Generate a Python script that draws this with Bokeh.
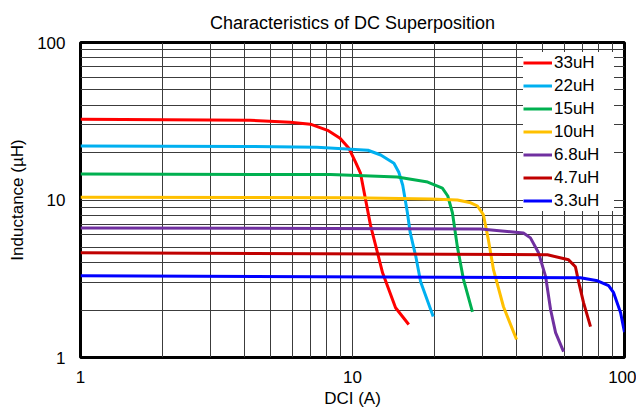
from bokeh.plotting import figure
from bokeh.models import Range1d, FixedTicker
from bokeh.embed import file_html
from bokeh.resources import INLINE

title = "Characteristics of DC Superposition"
x_title = "DCI (A)"
y_title = "Inductance (µH)"

x_ticks = [1, 10, 100]
x_tick_labels = ["1", "10", "100"]
y_ticks = [1, 10, 100]
y_tick_labels = ["1", "10", "100"]
minor_ticks = [2, 3, 4, 5, 6, 7, 8, 9, 20, 30, 40, 50, 60, 70, 80, 90]

names = ["33uH", "22uH", "15uH", "10uH", "6.8uH", "4.7uH", "3.3uH"]
colors = ["#FF0000", "#00B0F0", "#00B050", "#FFC000", "#7030A0", "#C00000", "#0000FF"]

x_33 = [1, 4.2, 5.9, 7.0, 8.1, 9.0, 9.7, 10.26, 10.7, 11.65, 12.9, 14.4, 16.1]
y_33 = [32.6, 32.1, 31.2, 30.3, 27.7, 24.7, 21.3, 17.4, 14.8, 6.9, 3.45, 2.07, 1.62]

x_22 = [1, 4, 7.4, 11.4, 12.7, 14.2, 14.8, 15.3, 15.9, 16.3, 17.1, 17.8, 19.8]
y_22 = [22.0, 21.9, 21.6, 20.7, 19.3, 17.1, 15.0, 12.4, 8.4, 6.2, 4.36, 3.03, 1.82]

x_15 = [1, 8.3, 14.6, 18.9, 21.4, 22.4, 23.3, 24.3, 25.6, 27.6]
y_15 = [14.6, 14.5, 14.0, 13.0, 11.9, 10.6, 8.3, 5.04, 3.12, 1.95]

x_10 = [1, 10, 19.4, 24.3, 27.2, 28.8, 30.3, 31.6, 33.0, 35.9, 40.1]
y_10 = [10.4, 10.35, 10.15, 10.0, 9.6, 9.16, 8.04, 5.58, 3.6, 2.1, 1.3]

x_6p8 = [1, 29.6, 42.5, 45.1, 48.3, 51.3, 53.5, 55.8, 59.7]
y_6p8 = [6.65, 6.55, 6.18, 5.75, 4.62, 3.26, 2.01, 1.44, 1.09]

x_4p7 = [1, 52.1, 62.3, 66.0, 67.8, 70.7, 75.0]
y_4p7 = [4.62, 4.49, 4.17, 3.77, 3.03, 2.23, 1.57]

x_3p3 = [1, 68.9, 79.6, 87.4, 91.2, 96.7, 100]
y_3p3 = [3.30, 3.21, 3.07, 2.86, 2.58, 1.93, 1.45]

series_x = [x_33, x_22, x_15, x_10, x_6p8, x_4p7, x_3p3]
series_y = [y_33, y_22, y_15, y_10, y_6p8, y_4p7, y_3p3]

FONT = "Liberation Sans"

p = figure(width=636, height=410, x_axis_type="log", y_axis_type="log",
           x_range=Range1d(1, 100), y_range=Range1d(1, 100),
           output_backend="svg", toolbar_location=None,
           min_border_left=80, min_border_right=12, min_border_top=42, min_border_bottom=52,
           title=title)

p.title.text_font = FONT
p.title.text_font_size = "18px"
p.title.text_font_style = "normal"
p.title.text_color = "black"
p.title.align = "center"
p.title.standoff = 20

for xs, ys, nm, c in zip(series_x, series_y, names, colors):
    p.line(xs, ys, line_color=c, line_width=3, legend_label=nm)

p.xaxis.ticker = FixedTicker(ticks=x_ticks, minor_ticks=minor_ticks)
p.yaxis.ticker = FixedTicker(ticks=y_ticks, minor_ticks=minor_ticks)
p.xaxis.major_label_overrides = dict(zip(x_ticks, x_tick_labels))
p.yaxis.major_label_overrides = dict(zip(y_ticks, y_tick_labels))

for ax in (p.xaxis, p.yaxis):
    ax.axis_line_color = None
    ax.major_tick_line_color = None
    ax.minor_tick_line_color = None
    ax.major_tick_out = 0
    ax.major_tick_in = 0
    ax.minor_tick_out = 0
    ax.minor_tick_in = 0
    ax.major_label_text_font = FONT
    ax.major_label_text_font_size = "17px"
    ax.major_label_text_color = "black"
    ax.axis_label_text_font = FONT
    ax.axis_label_text_font_size = "17px"
    ax.axis_label_text_font_style = "normal"
    ax.axis_label_text_color = "black"

p.xaxis.axis_label = x_title
p.yaxis.axis_label = y_title
p.xaxis.major_label_standoff = 13
p.xaxis.axis_label_standoff = 3
p.yaxis.major_label_standoff = 15
p.yaxis.axis_label_standoff = 7

for g in (p.xgrid, p.ygrid):
    g.grid_line_color = "#3c3c3c"
    g.grid_line_width = 1
    g.minor_grid_line_color = "#3c3c3c"
    g.minor_grid_line_width = 1

p.outline_line_color = "black"
p.outline_line_width = 3
p.outline_line_alpha = 1

lg = p.legend[0]
lg.location = "top_right"
lg.margin = 10
lg.padding = 1
lg.spacing = 2
lg.label_height = 21
lg.label_width = 60
lg.glyph_height = 21
lg.glyph_width = 29
lg.label_standoff = 2
lg.label_text_font = FONT
lg.label_text_font_size = "17px"
lg.label_text_color = "black"
lg.border_line_color = None
lg.background_fill_color = "white"
lg.background_fill_alpha = 1

open("out.html", "w").write(file_html(p, INLINE))
